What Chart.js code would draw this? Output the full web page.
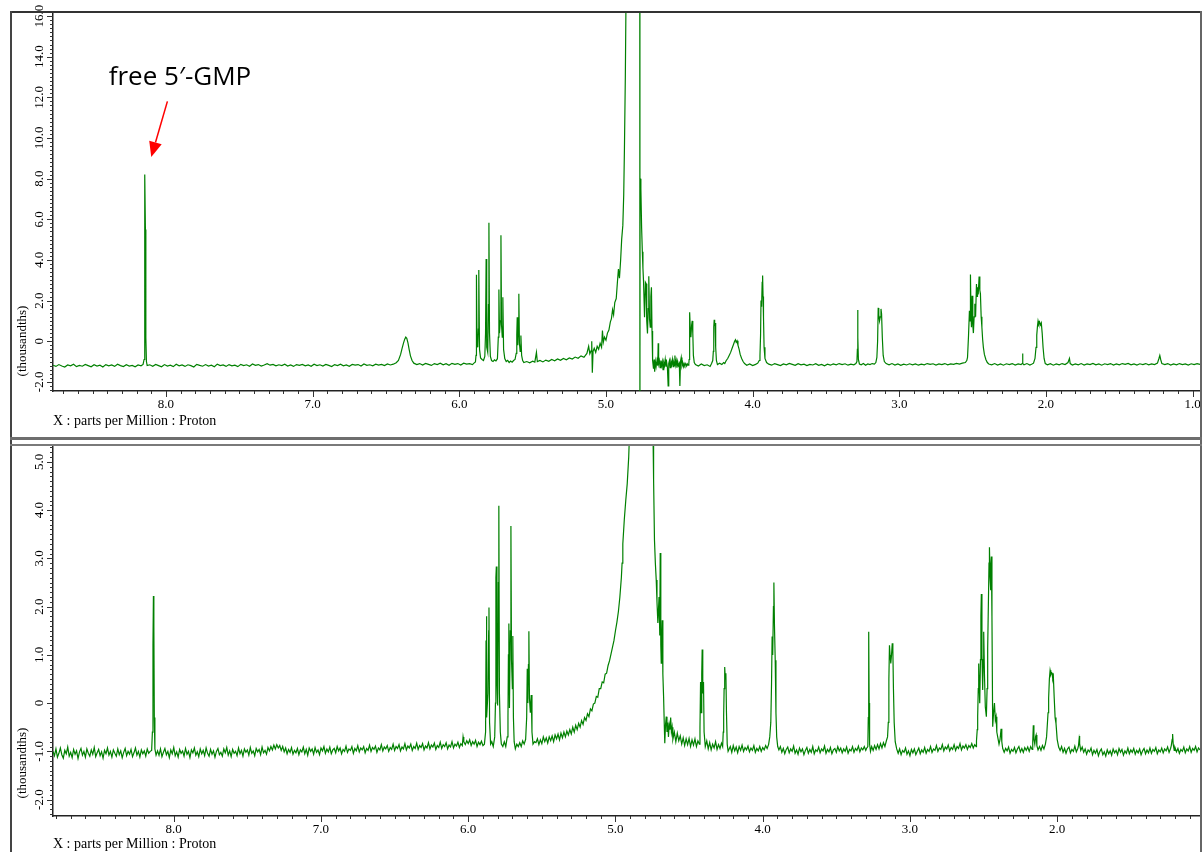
<!DOCTYPE html>
<html>
<head>
<meta charset="utf-8">
<script src="https://cdn.jsdelivr.net/npm/chart.js@4.4.1/dist/chart.umd.min.js"></script>
<style>
  html, body { margin: 0; padding: 0; background: #fff; }
  #page { position: relative; width: 1202px; height: 852px; overflow: hidden; background: #fff; }
  #page canvas { position: absolute; }
  .rule { position: absolute; }
</style>
</head>
<body>
<div id="page">
  <canvas id="topPanel" width="1200" height="437" style="left:0;top:0"></canvas>
  <canvas id="bottomPanel" width="1200" height="406" style="left:0;top:446px"></canvas>
  <div class="rule" style="left:10px;top:11px;width:1192px;height:2px;background:#333"></div>
  <div class="rule" style="left:10px;top:11px;width:2px;height:841px;background:#444"></div>
  <div class="rule" style="left:1200px;top:11px;width:2px;height:841px;background:#666"></div>
  <div class="rule" style="left:10px;top:437px;width:1192px;height:3px;background:#6e6e6e"></div>
  <div class="rule" style="left:10px;top:444px;width:1192px;height:2px;background:#7a7a7a"></div>
</div>
<script>
// 1H NMR traces: [chemical shift (ppm), intensity (thousandths)]
const topSpectrum = [
  [8.77,-1.18],[8.75,-1.24],[8.73,-1.15],[8.71,-1.22],[8.69,-1.27],[8.67,-1.17],[8.65,-1.21],[8.63,-1.13],[8.61,-1.25],[8.59,-1.19],
  [8.57,-1.23],[8.55,-1.14],[8.53,-1.2],[8.51,-1.26],[8.49,-1.16],[8.47,-1.22],[8.45,-1.18],[8.43,-1.27],[8.41,-1.15],[8.39,-1.21],
  [8.37,-1.17],[8.35,-1.24],[8.33,-1.13],[8.31,-1.2],[8.29,-1.25],[8.27,-1.16],[8.25,-1.22],[8.23,-1.19],[8.21,-1.26],[8.19,-1.17],
  [8.17,-1.21],[8.156,-1.14],[8.149,-0.9],[8.146,2.5],[8.143,8.2],[8.140,5.5],[8.137,0.2],[8.133,-1.0],[8.128,-1.2],
  [8.11,-1.16],[8.09,-1.23],[8.07,-1.14],[8.05,-1.2],[8.03,-1.26],[8.01,-1.15],[7.99,-1.22],[7.97,-1.18],[7.95,-1.25],[7.93,-1.13],
  [7.91,-1.21],[7.89,-1.17],[7.87,-1.24],[7.85,-1.16],[7.83,-1.2],[7.81,-1.27],[7.79,-1.14],[7.77,-1.19],[7.75,-1.23],[7.73,-1.15],
  [7.71,-1.22],[7.69,-1.18],[7.67,-1.26],[7.65,-1.13],[7.63,-1.2],[7.61,-1.17],[7.59,-1.24],[7.57,-1.15],[7.55,-1.21],[7.53,-1.18],
  [7.51,-1.25],[7.49,-1.14],[7.47,-1.2],[7.45,-1.16],[7.43,-1.23],[7.41,-1.12],[7.39,-1.19],[7.37,-1.15],[7.35,-1.22],[7.33,-1.17],
  [7.31,-1.11],[7.29,-1.18],[7.27,-1.14],[7.25,-1.21],[7.23,-1.16],[7.21,-1.2],[7.19,-1.13],[7.17,-1.22],[7.15,-1.17],[7.13,-1.24],
  [7.11,-1.15],[7.09,-1.19],[7.07,-1.14],[7.05,-1.21],[7.03,-1.17],[7.01,-1.23],[6.99,-1.13],[6.97,-1.2],[6.95,-1.16],[6.93,-1.22],
  [6.91,-1.14],[6.89,-1.19],[6.87,-1.25],[6.85,-1.15],[6.83,-1.2],[6.81,-1.13],[6.79,-1.21],[6.77,-1.17],[6.75,-1.23],[6.73,-1.14],
  [6.71,-1.18],[6.69,-1.15],[6.67,-1.22],[6.65,-1.12],[6.63,-1.19],[6.61,-1.16],[6.59,-1.21],[6.57,-1.13],[6.55,-1.18],[6.53,-1.14],
  [6.51,-1.2],[6.49,-1.12],[6.47,-1.17],[6.45,-1.13],[6.43,-1.06],[6.415,-0.95],[6.40,-0.65],[6.39,-0.35],[6.38,-0.08],[6.372,0.1],
  [6.365,0.2],[6.358,0.14],[6.35,-0.08],[6.342,-0.4],[6.333,-0.72],[6.322,-0.95],[6.31,-1.08],
  [6.29,-1.15],[6.27,-1.1],[6.25,-1.17],[6.23,-1.09],[6.21,-1.14],[6.19,-1.19],[6.17,-1.1],[6.15,-1.15],[6.13,-1.08],[6.11,-1.16],
  [6.09,-1.11],[6.07,-1.18],[6.05,-1.09],[6.03,-1.14],[6.01,-1.1],[5.99,-1.17],[5.97,-1.08],[5.95,-1.13],[5.93,-1.1],[5.91,-1.15],
  [5.90,-1.08],[5.89,-1.02],[5.886,-0.7],[5.883,3.27],[5.879,0.0],[5.874,-0.3],[5.870,0.6],[5.867,3.5],[5.862,-0.4],[5.855,-0.82],
  [5.845,-0.9],[5.835,-0.95],[5.826,-0.75],[5.821,0.4],[5.817,4.05],[5.813,-0.3],[5.806,-0.55],[5.801,1.8],[5.798,5.83],[5.794,0.4],
  [5.788,-0.75],[5.78,-0.95],[5.77,-1.0],[5.76,-0.92],[5.75,-0.97],[5.74,-0.86],[5.734,0.2],[5.730,2.55],[5.726,0.4],[5.72,1.0],
  [5.716,5.22],[5.712,0.8],[5.707,0.2],[5.703,2.16],[5.698,-0.4],[5.69,-0.85],[5.68,-1.0],[5.67,-0.94],[5.66,-1.05],[5.65,-0.98],
  [5.64,-1.03],[5.63,-0.95],[5.62,-0.9],[5.612,-0.6],[5.608,0.3],[5.605,1.18],[5.601,-0.2],[5.597,0.6],[5.594,2.33],[5.59,-0.1],
  [5.585,-0.5],[5.58,0.28],[5.575,-0.7],[5.568,-0.95],[5.56,-1.05],
  [5.54,-1.0],[5.52,-1.06],[5.50,-0.98],[5.485,-1.03],[5.474,-0.55],[5.468,-1.0],[5.45,-0.95],[5.43,-1.02],[5.41,-0.93],[5.39,-0.99],
  [5.37,-0.9],[5.35,-0.96],[5.33,-0.87],[5.31,-0.94],[5.29,-0.85],[5.27,-0.91],[5.25,-0.82],[5.23,-0.88],[5.21,-0.78],[5.19,-0.84],
  [5.17,-0.72],[5.15,-0.79],[5.13,-0.6],[5.118,-0.25],[5.11,-0.62],[5.10,-0.45],[5.097,0.0],[5.093,-1.55],[5.088,-0.5],[5.08,-0.35],
  [5.07,-0.55],[5.06,-0.25],[5.05,-0.4],[5.04,-0.1],[5.03,-0.3],[5.024,0.53],[5.018,-0.05],[5.01,0.2],[5.0,0.05],[4.99,0.4],
  [4.98,0.55],[4.97,0.95],[4.963,1.1],[4.955,1.55],[4.948,1.3],[4.94,1.9],[4.93,2.1],[4.922,2.9],[4.915,3.55],[4.908,3.1],
  [4.9,4.0],[4.893,5.0],[4.885,5.7],[4.879,7.2],[4.874,9.5],[4.868,13],[4.862,18],[4.85,25],[4.82,30],[4.79,30],
  [4.775,25],[4.7695,20],[4.769,-6],[4.768,-6],[4.7675,8],[4.762,7.5],[4.757,5.6],[4.752,4.4],[4.748,3.6],[4.744,2.98],
  [4.737,1.18],[4.731,2.9],[4.726,2.83],[4.722,1.0],[4.717,0.38],[4.712,1.6],[4.708,3.2],[4.703,1.1],[4.698,0.69],[4.694,2.2],
  [4.69,2.65],[4.686,0.5],[4.684,-0.13],[4.68,-0.95],
  [4.676,-1.35],[4.672,-0.9],[4.668,-1.5],[4.663,-1.0],[4.658,-1.25],[4.652,-0.95],[4.647,-1.2],[4.644,-0.1],[4.641,-1.1],[4.636,-0.95],
  [4.631,-1.3],[4.626,-0.95],[4.621,-1.2],[4.616,-1.0],[4.611,-1.4],[4.606,-1.05],[4.601,-1.2],[4.596,-0.9],[4.591,-1.25],[4.586,-1.05],
  [4.581,-1.3],[4.576,-2.2],[4.572,-1.1],[4.567,-0.95],[4.562,-1.3],[4.557,-1.0],[4.552,-1.15],[4.547,-0.9],[4.542,-1.25],[4.537,-1.05],
  [4.532,-1.2],[4.530,-0.7],[4.526,-1.15],[4.521,-0.95],[4.516,-1.3],[4.511,-1.0],[4.506,-1.2],[4.500,-1.1],[4.496,-2.2],[4.492,-1.0],
  [4.487,-0.8],[4.482,-1.2],[4.477,-1.05],[4.472,-1.25],[4.467,-1.1],[4.462,-1.2],[4.456,-1.1],[4.45,-1.22],[4.445,-1.12],[4.44,-1.18],
  [4.435,-1.1],[4.433,-0.9],[4.431,0.2],[4.428,1.43],[4.425,0.6],[4.421,0.2],[4.416,0.8],[4.412,1.0],[4.408,0.4],[4.404,-0.7],
  [4.398,-1.05],[4.39,-1.15],[4.37,-1.22],[4.35,-1.12],[4.33,-1.2],[4.31,-1.16],[4.29,-1.24],[4.28,-1.1],
  [4.272,-0.95],[4.268,-0.5],[4.265,0.7],[4.262,1.05],[4.259,0.75],[4.256,0.9],[4.252,-0.3],[4.247,-0.95],[4.24,-1.15],
  [4.225,-1.08],[4.21,-1.15],[4.198,-1.05],[4.19,-1.1],[4.18,-0.95],[4.17,-0.85],[4.16,-0.7],[4.15,-0.55],[4.14,-0.35],[4.13,-0.15],
  [4.123,0.0],[4.117,0.07],[4.112,-0.05],[4.106,0.02],[4.1,-0.2],[4.092,-0.4],[4.085,-0.65],[4.075,-0.85],[4.065,-1.0],[4.055,-1.1],
  [4.04,-1.18],[4.02,-1.12],[4.0,-1.2],[3.98,-1.14],[3.965,-1.08],
  [3.955,-0.95],[3.95,-0.7],[3.946,0.3],[3.943,2.0],[3.939,1.7],[3.935,2.9],[3.932,3.23],[3.929,2.2],[3.926,1.18],[3.922,-0.3],
  [3.916,-0.85],[3.905,-1.05],
  [3.89,-1.13],[3.87,-1.18],[3.85,-1.1],[3.83,-1.15],[3.81,-1.2],[3.79,-1.12],[3.77,-1.16],[3.75,-1.09],[3.73,-1.14],[3.71,-1.19],
  [3.69,-1.11],[3.67,-1.16],[3.65,-1.13],[3.63,-1.2],[3.61,-1.14],[3.59,-1.17],[3.57,-1.11],[3.55,-1.19],[3.53,-1.14],[3.51,-1.21],
  [3.49,-1.13],[3.47,-1.18],[3.45,-1.12],[3.43,-1.16],[3.41,-1.1],[3.39,-1.15],[3.37,-1.11],[3.35,-1.18],[3.33,-1.13],[3.31,-1.16],
  [3.296,-1.1],[3.289,-1.0],[3.286,-0.4],[3.284,1.54],[3.282,0.2],[3.279,-0.9],[3.272,-1.12],
  [3.26,-1.16],[3.245,-1.1],[3.23,-1.18],[3.215,-1.12],[3.2,-1.15],[3.185,-1.1],[3.17,-1.13],[3.16,-1.05],
  [3.153,-0.8],[3.148,0.0],[3.144,1.64],[3.14,1.3],[3.135,1.0],[3.13,1.2],[3.125,1.59],[3.121,1.35],[3.116,0.2],[3.11,-0.7],
  [3.102,-1.0],[3.09,-1.1],
  [3.07,-1.16],[3.05,-1.1],[3.03,-1.17],[3.01,-1.12],[2.99,-1.19],[2.97,-1.13],[2.95,-1.17],[2.93,-1.11],[2.91,-1.16],[2.89,-1.12],
  [2.87,-1.18],[2.85,-1.13],[2.83,-1.16],[2.81,-1.1],[2.79,-1.14],[2.77,-1.11],[2.75,-1.17],[2.73,-1.12],[2.71,-1.15],[2.69,-1.1],
  [2.67,-1.16],[2.65,-1.12],[2.63,-1.14],[2.61,-1.09],[2.59,-1.13],[2.57,-1.08],[2.55,-1.05],[2.54,-0.95],
  [2.535,-0.8],[2.528,0.3],[2.522,1.5],[2.518,1.0],[2.515,3.28],[2.511,1.2],[2.508,0.69],[2.504,2.24],[2.499,0.8],[2.495,0.4],
  [2.49,1.2],[2.485,1.84],[2.48,1.2],[2.474,2.82],[2.47,2.2],[2.467,2.65],[2.462,2.3],[2.456,3.18],[2.451,2.5],[2.447,2.33],
  [2.442,1.2],[2.437,0.69],[2.432,0.1],[2.427,-0.3],[2.42,-0.65],[2.41,-0.9],[2.40,-1.05],[2.39,-1.12],
  [2.37,-1.16],[2.35,-1.1],[2.33,-1.17],[2.31,-1.12],[2.29,-1.18],[2.27,-1.11],[2.25,-1.15],[2.23,-1.1],[2.21,-1.17],[2.19,-1.12],
  [2.17,-1.15],[2.163,-1.1],[2.160,-0.6],[2.157,-1.1],[2.15,-1.16],[2.13,-1.1],[2.11,-1.17],[2.095,-1.12],[2.085,-1.08],
  [2.075,-0.85],[2.068,-0.3],[2.063,0.3],[2.058,0.75],[2.054,1.0],[2.049,0.85],[2.044,0.95],[2.038,0.8],[2.032,0.9],[2.026,0.4],
  [2.02,-0.3],[2.013,-0.85],[2.005,-1.1],
  [1.99,-1.16],[1.97,-1.11],[1.95,-1.18],[1.93,-1.12],[1.91,-1.16],[1.89,-1.1],[1.87,-1.15],[1.85,-1.05],[1.84,-0.85],[1.835,-1.1],
  [1.82,-1.17],[1.80,-1.12],[1.78,-1.16],[1.76,-1.1],[1.74,-1.17],[1.72,-1.12],[1.70,-1.15],[1.68,-1.09],[1.66,-1.16],[1.64,-1.12],
  [1.62,-1.18],[1.60,-1.11],[1.58,-1.15],[1.56,-1.1],[1.54,-1.17],[1.52,-1.12],[1.50,-1.16],[1.48,-1.1],[1.46,-1.14],[1.44,-1.09],
  [1.42,-1.16],[1.40,-1.12],[1.38,-1.17],[1.36,-1.11],[1.34,-1.15],[1.32,-1.1],[1.30,-1.16],[1.28,-1.12],[1.26,-1.15],[1.24,-1.08],
  [1.23,-0.85],[1.224,-0.7],[1.218,-0.9],[1.21,-1.1],[1.19,-1.15],[1.17,-1.1],[1.15,-1.17],[1.13,-1.12],[1.11,-1.16],[1.09,-1.1],
  [1.07,-1.15],[1.05,-1.12],[1.03,-1.17],[1.01,-1.11],[0.99,-1.15],[0.97,-1.1],[0.95,-1.14]
];

const bottomSpectrum = [
  [8.82,-1.0],[8.81,-1.09],[8.80,-0.95],[8.79,-1.12],[8.78,-1.04],[8.77,-0.93],[8.76,-1.07],[8.75,-1.14],[8.74,-0.98],[8.73,-1.05],
  [8.72,-0.91],[8.71,-1.1],[8.70,-1.02],[8.69,-1.13],[8.68,-0.96],[8.67,-1.06],[8.66,-0.99],[8.65,-1.15],[8.64,-1.01],[8.63,-0.94],
  [8.62,-1.08],[8.61,-1.0],[8.60,-1.12],[8.59,-0.95],[8.58,-1.04],[8.57,-1.1],[8.56,-0.97],[8.55,-1.06],[8.54,-0.92],[8.53,-1.11],
  [8.52,-1.03],[8.51,-0.96],[8.50,-1.09],[8.49,-1.01],[8.48,-1.14],[8.47,-0.98],[8.46,-1.05],[8.45,-0.93],[8.44,-1.08],[8.43,-1.0],
  [8.42,-1.12],[8.41,-0.97],[8.40,-1.04],[8.39,-1.1],[8.38,-0.95],[8.37,-1.07],[8.36,-0.99],[8.35,-1.13],[8.34,-1.02],[8.33,-0.94],
  [8.32,-1.09],[8.31,-1.0],[8.30,-1.06],[8.29,-0.96],[8.28,-1.11],[8.27,-1.03],[8.26,-0.93],[8.25,-1.08],[8.24,-1.0],[8.23,-1.12],
  [8.22,-0.97],[8.21,-1.05],[8.20,-0.99],[8.19,-1.1],[8.18,-0.95],[8.17,-1.04],[8.16,-1.0],
  [8.15,-0.98],[8.145,-0.6],[8.141,1.2],[8.138,2.22],[8.135,1.6],[8.132,-0.3],[8.128,-0.95],[8.12,-1.08],
  [8.11,-0.99],[8.10,-1.08],[8.09,-0.95],[8.08,-1.11],[8.07,-1.02],[8.06,-0.94],[8.05,-1.07],[8.04,-1.0],[8.03,-1.13],[8.02,-0.97],
  [8.01,-1.05],[8.00,-0.92],[7.99,-1.09],[7.98,-1.01],[7.97,-1.12],[7.96,-0.96],[7.95,-1.04],[7.94,-0.99],[7.93,-1.1],[7.92,-0.94],
  [7.91,-1.06],[7.90,-1.0],[7.89,-1.13],[7.88,-0.97],[7.87,-1.03],[7.86,-0.93],[7.85,-1.08],[7.84,-1.01],[7.83,-1.11],[7.82,-0.95],
  [7.81,-1.05],[7.80,-0.98],[7.79,-1.09],[7.78,-0.93],[7.77,-1.04],[7.76,-1.1],[7.75,-0.96],[7.74,-1.06],[7.73,-0.99],[7.72,-1.12],
  [7.71,-1.0],[7.70,-0.94],[7.69,-1.07],[7.68,-1.02],[7.67,-1.1],[7.66,-0.95],[7.65,-1.03],[7.64,-0.92],[7.63,-1.08],[7.62,-0.99],
  [7.61,-1.11],[7.60,-0.96],[7.59,-1.04],[7.58,-1.0],[7.57,-1.09],[7.56,-0.93],[7.55,-1.05],[7.54,-0.98],[7.53,-1.1],[7.52,-0.95],
  [7.51,-1.02],[7.50,-0.97],[7.49,-1.08],[7.48,-0.92],[7.47,-1.04],[7.46,-0.99],[7.45,-1.09],[7.44,-0.94],[7.43,-1.01],[7.42,-0.96],
  [7.41,-1.07],[7.40,-0.91],[7.39,-1.03],[7.38,-0.98],[7.37,-1.06],[7.36,-0.92],[7.35,-0.99],[7.34,-0.9],[7.33,-0.97],[7.32,-0.87],
  [7.31,-0.95],[7.30,-0.86],[7.29,-0.93],[7.28,-0.88],[7.27,-0.98],[7.26,-0.9],[7.25,-1.01],[7.24,-0.93],[7.23,-1.05],[7.22,-0.96],
  [7.21,-1.02],[7.20,-0.92],[7.19,-1.06],[7.18,-0.98],[7.17,-1.03],[7.16,-0.94],[7.15,-1.07],[7.14,-0.97],[7.13,-1.01],[7.12,-0.91],
  [7.11,-1.05],[7.10,-0.96],[7.09,-1.08],[7.08,-0.93],[7.07,-1.0],[7.06,-0.95],[7.05,-1.06],[7.04,-0.92],[7.03,-1.02],[7.02,-0.97],
  [7.01,-1.07],[7.00,-0.93],[6.99,-0.99],[6.98,-0.9],[6.97,-1.04],[6.96,-0.95],[6.95,-1.01],[6.94,-0.91],[6.93,-1.05],[6.92,-0.97],
  [6.91,-0.94],[6.90,-1.03],[6.89,-0.9],[6.88,-0.99],[6.87,-0.93],[6.86,-1.05],[6.85,-0.96],[6.84,-1.0],[6.83,-0.89],[6.82,-1.02],
  [6.81,-0.95],[6.80,-0.98],[6.79,-0.9],[6.78,-1.04],[6.77,-0.94],[6.76,-0.99],[6.75,-0.88],[6.74,-1.01],[6.73,-0.93],[6.72,-0.97],
  [6.71,-0.9],[6.70,-1.03],[6.69,-0.94],[6.68,-0.98],[6.67,-0.87],[6.66,-1.0],[6.65,-0.92],[6.64,-0.96],[6.63,-0.89],[6.62,-1.02],
  [6.61,-0.93],[6.60,-0.97],[6.59,-0.86],[6.58,-0.99],[6.57,-0.91],[6.56,-0.95],[6.55,-0.88],[6.54,-1.0],[6.53,-0.92],[6.52,-0.96],
  [6.51,-0.85],[6.50,-0.98],[6.49,-0.9],[6.48,-0.94],[6.47,-0.86],[6.46,-0.99],[6.45,-0.91],[6.44,-0.95],[6.43,-0.84],[6.42,-0.97],
  [6.41,-0.89],[6.40,-0.93],[6.39,-0.85],[6.38,-0.98],[6.37,-0.9],[6.36,-0.94],[6.35,-0.83],[6.34,-0.96],[6.33,-0.88],[6.32,-0.92],
  [6.31,-0.84],[6.30,-0.97],[6.29,-0.89],[6.28,-0.93],[6.27,-0.82],[6.26,-0.95],[6.25,-0.87],[6.24,-0.91],[6.23,-0.83],[6.22,-0.96],
  [6.21,-0.88],[6.20,-0.92],[6.19,-0.81],[6.18,-0.94],[6.17,-0.86],[6.16,-0.9],[6.15,-0.82],[6.14,-0.95],[6.13,-0.87],[6.12,-0.91],
  [6.11,-0.8],[6.10,-0.93],[6.09,-0.85],[6.08,-0.89],[6.07,-0.81],[6.06,-0.92],[6.05,-0.84],[6.04,-0.88],[6.035,-0.7],[6.03,-0.8],
  [6.02,-0.86],[6.01,-0.78],[6.00,-0.84],[5.99,-0.76],[5.98,-0.88],[5.97,-0.8],[5.96,-0.85],[5.95,-0.77],[5.94,-0.9],[5.93,-0.81],
  [5.92,-0.86],[5.91,-0.79],[5.90,-0.88],
  [5.89,-0.85],[5.882,-0.6],[5.879,1.3],[5.877,1.80],[5.873,-0.3],[5.866,0.2],[5.861,1.5],[5.859,1.98],[5.855,-0.4],[5.848,-0.85],
  [5.84,-0.8],[5.83,-0.9],[5.82,-0.7],[5.815,0.0],[5.812,2.6],[5.809,2.83],[5.805,0.5],[5.80,-0.05],[5.795,2.5],[5.792,4.09],
  [5.788,0.2],[5.782,-0.6],[5.775,-0.85],[5.765,-0.9],[5.755,-0.8],[5.745,-0.9],[5.735,-0.7],[5.73,-0.3],[5.727,1.0],[5.724,1.65],
  [5.72,-0.1],[5.714,1.5],[5.710,3.67],[5.706,0.9],[5.700,0.3],[5.697,1.39],[5.693,-0.3],[5.688,-0.8],[5.68,-0.95],[5.67,-0.85],
  [5.66,-0.9],[5.65,-0.82],[5.64,-0.9],[5.63,-0.78],[5.62,-0.85],[5.61,-0.75],[5.603,-0.3],[5.599,0.71],[5.595,0.0],[5.591,0.8],
  [5.588,1.49],[5.584,0.1],[5.578,-0.2],[5.572,0.17],[5.567,-0.6],[5.56,-0.85],[5.55,-0.8],
  [5.54,-0.82],[5.53,-0.74],[5.52,-0.86],[5.51,-0.76],[5.50,-0.84],[5.49,-0.7],[5.48,-0.8],[5.47,-0.72],[5.46,-0.83],[5.45,-0.7],
  [5.44,-0.78],[5.43,-0.68],[5.42,-0.8],[5.41,-0.66],[5.40,-0.74],[5.39,-0.64],[5.38,-0.76],[5.37,-0.62],[5.36,-0.72],[5.35,-0.6],
  [5.34,-0.7],[5.33,-0.58],[5.32,-0.66],[5.31,-0.55],[5.30,-0.64],[5.29,-0.5],[5.28,-0.6],[5.27,-0.46],[5.26,-0.55],[5.25,-0.42],
  [5.24,-0.5],[5.23,-0.36],[5.22,-0.44],[5.21,-0.3],[5.20,-0.36],[5.19,-0.22],[5.18,-0.28],[5.17,-0.12],[5.16,-0.16],[5.15,-0.02],
  [5.14,0.0],[5.13,0.14],[5.12,0.12],[5.11,0.3],[5.10,0.3],[5.09,0.44],[5.08,0.42],[5.07,0.6],[5.06,0.62],[5.05,0.78],
  [5.04,0.88],[5.03,1.02],[5.02,1.16],[5.01,1.3],[5.0,1.5],[4.99,1.68],[4.98,1.9],[4.97,2.2],[4.96,2.6],[4.955,2.9],
  [4.95,3.3],[4.94,3.8],[4.93,4.2],[4.92,4.55],[4.91,5.1],[4.90,6.0],[4.88,9],[4.85,14],[4.80,14],[4.765,10],
  [4.75,6.5],[4.745,5.6],[4.741,4.63],[4.735,3.38],[4.729,2.9],[4.723,2.55],[4.718,2.1],[4.712,1.66],[4.704,2.2],[4.699,1.4],
  [4.696,3.11],[4.692,1.2],[4.689,0.83],[4.686,1.3],[4.682,1.72],[4.678,0.6],[4.673,0.12],[4.668,-0.5],[4.665,-0.83],[4.66,-0.45],
  [4.655,-0.28],[4.65,-0.6],[4.645,-0.4],[4.64,-0.7],[4.635,-0.45],[4.63,-0.55],[4.625,-0.3],[4.62,-0.6],[4.615,-0.5],[4.61,-0.75],
  [4.60,-0.6],[4.59,-0.8],[4.58,-0.62],[4.57,-0.78],[4.56,-0.68],[4.55,-0.85],[4.54,-0.72],[4.53,-0.88],[4.52,-0.74],[4.51,-0.86],
  [4.50,-0.73],[4.49,-0.9],[4.48,-0.76],[4.47,-0.87],[4.46,-0.74],[4.45,-0.9],[4.44,-0.78],[4.43,-0.85],
  [4.426,-0.5],[4.422,0.44],[4.418,-0.2],[4.414,0.6],[4.411,1.11],[4.407,0.2],[4.402,0.44],[4.398,-0.6],[4.39,-0.9],
  [4.38,-0.78],[4.37,-0.95],[4.36,-0.82],[4.35,-0.97],[4.34,-0.85],[4.33,-0.93],[4.32,-0.8],[4.31,-0.96],[4.30,-0.86],[4.29,-0.94],
  [4.28,-0.83],[4.272,-0.9],[4.268,-0.6],[4.265,-0.25],[4.262,0.3],[4.258,0.75],[4.254,0.5],[4.25,0.62],[4.246,-0.2],[4.241,-0.85],
  [4.235,-1.0],[4.22,-0.9],[4.21,-1.02],[4.20,-0.88],[4.19,-0.99],[4.18,-0.91],[4.17,-1.03],[4.16,-0.9],[4.15,-0.98],[4.14,-0.87],
  [4.13,-1.0],[4.12,-0.92],[4.11,-0.97],[4.10,-0.89],[4.09,-1.01],[4.08,-0.93],[4.07,-0.98],[4.06,-0.88],[4.05,-1.02],[4.04,-0.94],
  [4.03,-0.99],[4.02,-0.9],[4.01,-1.0],[4.00,-0.92],[3.99,-0.97],[3.98,-0.88],[3.97,-0.94],[3.96,-0.86],[3.952,-0.7],
  [3.945,-0.4],[3.94,0.4],[3.936,1.38],[3.932,1.0],[3.927,2.0],[3.924,2.5],[3.92,1.6],[3.915,0.89],[3.91,-0.2],[3.905,-0.7],
  [3.898,-0.9],
  [3.89,-0.97],[3.88,-0.9],[3.87,-1.02],[3.86,-0.94],[3.85,-1.05],[3.84,-0.96],[3.83,-0.91],[3.82,-1.03],[3.81,-0.95],[3.80,-1.0],
  [3.79,-0.89],[3.78,-1.04],[3.77,-0.97],[3.76,-1.06],[3.75,-0.93],[3.74,-1.01],[3.73,-0.95],[3.72,-1.07],[3.71,-0.98],[3.70,-0.92],
  [3.69,-1.04],[3.68,-0.96],[3.67,-1.02],[3.66,-0.9],[3.65,-1.05],[3.64,-0.97],[3.63,-1.0],[3.62,-0.91],[3.61,-1.03],[3.60,-0.95],
  [3.59,-0.99],[3.58,-0.89],[3.57,-1.04],[3.56,-0.96],[3.55,-1.01],[3.54,-0.92],[3.53,-1.05],[3.52,-0.97],[3.51,-0.94],[3.50,-1.02],
  [3.49,-0.9],[3.48,-0.99],[3.47,-0.93],[3.46,-1.03],[3.45,-0.95],[3.44,-1.0],[3.43,-0.91],[3.42,-1.04],[3.41,-0.96],[3.40,-0.99],
  [3.39,-0.9],[3.38,-1.02],[3.37,-0.94],[3.36,-0.98],[3.35,-0.89],[3.34,-1.01],[3.33,-0.93],[3.32,-0.97],[3.31,-0.9],[3.30,-0.98],
  [3.295,-0.94],[3.286,-0.9],[3.283,-0.3],[3.280,1.48],[3.277,0.0],[3.274,-0.85],[3.268,-1.0],
  [3.26,-0.9],[3.25,-0.98],[3.24,-0.88],[3.23,-0.96],[3.22,-0.86],[3.21,-0.95],[3.20,-0.84],[3.19,-0.93],[3.18,-0.82],[3.17,-0.9],
  [3.16,-0.78],[3.152,-0.7],[3.147,-0.4],[3.143,0.5],[3.139,1.2],[3.135,1.0],[3.13,0.82],[3.125,1.0],[3.12,1.24],[3.116,1.1],
  [3.112,0.3],[3.107,-0.4],[3.1,-0.8],[3.09,-0.95],
  [3.08,-1.04],[3.07,-0.95],[3.06,-1.07],[3.05,-0.98],[3.04,-1.02],[3.03,-0.93],[3.02,-1.06],[3.01,-0.99],[3.00,-1.09],[2.99,-0.96],
  [2.98,-1.03],[2.97,-0.95],[2.96,-1.07],[2.95,-1.0],[2.94,-0.93],[2.93,-1.05],[2.92,-0.97],[2.91,-1.02],[2.90,-0.92],[2.89,-1.04],
  [2.88,-0.96],[2.87,-1.0],[2.86,-0.9],[2.85,-1.02],[2.84,-0.95],[2.83,-0.98],[2.82,-0.88],[2.81,-1.0],[2.80,-0.93],[2.79,-0.96],
  [2.78,-0.86],[2.77,-0.99],[2.76,-0.91],[2.75,-0.95],[2.74,-0.87],[2.73,-0.99],[2.72,-0.92],[2.71,-0.96],[2.70,-0.86],[2.69,-0.98],
  [2.68,-0.9],[2.67,-0.94],[2.66,-0.84],[2.65,-0.97],[2.64,-0.89],[2.63,-0.93],[2.62,-0.86],[2.61,-0.96],[2.60,-0.88],[2.59,-0.92],
  [2.58,-0.84],[2.57,-0.93],[2.56,-0.86],[2.55,-0.9],[2.548,-0.78],
  [2.543,-0.55],[2.54,-0.28],[2.536,0.3],[2.533,0.82],[2.529,0.3],[2.526,0.0],[2.521,0.9],[2.518,1.8],[2.515,2.26],[2.511,1.0],
  [2.506,0.27],[2.502,0.9],[2.499,1.48],[2.494,0.6],[2.488,-0.08],[2.481,-0.28],[2.476,0.3],[2.472,1.13],[2.466,2.3],[2.463,2.9],
  [2.460,3.23],[2.456,2.6],[2.453,2.34],[2.450,2.8],[2.447,3.04],[2.443,1.8],[2.438,-0.49],[2.432,-0.2],[2.426,0.0],[2.42,-0.35],
  [2.415,-0.28],[2.41,-0.6],[2.404,-0.7],[2.395,-0.85],[2.388,-0.75],[2.381,-0.53],[2.376,-0.8],[2.37,-0.94],
  [2.36,-1.02],[2.35,-0.94],[2.34,-0.99],[2.33,-0.91],[2.32,-1.04],[2.31,-0.96],[2.30,-1.0],[2.29,-0.92],[2.28,-1.03],[2.27,-0.95],
  [2.26,-0.9],[2.25,-1.01],[2.24,-0.94],[2.23,-1.02],[2.22,-0.92],[2.21,-0.98],[2.20,-0.91],[2.19,-1.0],[2.18,-0.9],[2.17,-0.96],
  [2.166,-0.8],[2.162,-0.46],[2.158,-0.75],[2.152,-0.85],[2.147,-0.7],[2.143,-0.66],[2.138,-0.88],[2.13,-0.97],[2.12,-0.9],[2.11,-0.98],
  [2.10,-0.88],[2.09,-0.95],[2.08,-0.85],[2.072,-0.7],[2.066,-0.4],[2.062,-0.2],[2.058,0.1],[2.053,0.5],[2.048,0.68],[2.043,0.6],
  [2.039,0.64],[2.035,0.62],[2.03,0.5],[2.026,0.55],[2.02,0.1],[2.014,-0.3],[2.008,-0.42],[2.0,-0.75],[1.99,-0.91],
  [1.98,-0.98],[1.97,-0.9],[1.96,-1.02],[1.95,-0.94],[1.94,-1.04],[1.93,-0.95],[1.92,-0.91],[1.91,-1.03],[1.90,-0.96],[1.89,-1.0],
  [1.88,-0.89],[1.87,-1.01],[1.86,-0.94],[1.855,-0.88],[1.851,-0.75],[1.849,-0.68],[1.846,-0.84],[1.84,-0.98],[1.83,-0.91],[1.82,-1.02],
  [1.81,-0.95],[1.80,-1.06],[1.79,-0.97],[1.78,-1.01],[1.77,-0.93],[1.76,-1.07],[1.75,-0.98],[1.74,-1.04],[1.73,-0.96],[1.72,-1.09],
  [1.71,-1.0],[1.70,-0.95],[1.69,-1.07],[1.68,-1.01],[1.67,-1.1],[1.66,-0.97],[1.65,-1.05],[1.64,-0.99],[1.63,-1.08],[1.62,-0.95],
  [1.61,-1.03],[1.60,-0.98],[1.59,-1.07],[1.58,-0.94],[1.57,-1.02],[1.56,-0.96],[1.55,-1.08],[1.54,-0.99],[1.53,-1.04],[1.52,-0.93],
  [1.51,-1.05],[1.50,-0.97],[1.49,-1.02],[1.48,-0.94],[1.47,-1.06],[1.46,-0.98],[1.45,-1.03],[1.44,-0.95],[1.43,-1.07],[1.42,-0.99],
  [1.41,-0.94],[1.40,-1.05],[1.39,-0.97],[1.38,-1.03],[1.37,-0.93],[1.36,-1.04],[1.35,-0.96],[1.34,-1.0],[1.33,-0.92],[1.32,-1.05],
  [1.31,-0.97],[1.30,-1.01],[1.29,-0.93],[1.28,-1.03],[1.27,-0.95],[1.26,-0.99],[1.25,-0.91],[1.24,-1.02],[1.23,-0.94],[1.225,-0.88],
  [1.219,-0.75],[1.216,-0.64],[1.212,-0.85],[1.205,-0.98],[1.20,-0.92],[1.19,-1.01],[1.18,-0.94],[1.17,-1.04],[1.16,-0.96],[1.15,-1.0],
  [1.14,-0.91],[1.13,-1.03],[1.12,-0.95],[1.11,-0.99],[1.10,-0.9],[1.09,-1.02],[1.08,-0.94],[1.07,-0.98],[1.06,-0.9],[1.05,-1.01],
  [1.04,-0.93],[1.03,-0.97]
];

// Axis tick labels
const topXTicks = [1, 2, 3, 4, 5, 6, 7, 8];
const bottomXTicks = [2, 3, 4, 5, 6, 7, 8];
const topYTicks = [-2, 0, 2, 4, 6, 8, 10, 12, 14, 16];
const bottomYTicks = [-2, -1, 0, 1, 2, 3, 4, 5];

const serif = "'Liberation Serif', 'Times New Roman', serif";
const traceColor = 'rgb(0,128,0)';
const xAxisTitle = 'X : parts per Million : Proton';

function fmtTick(v) { return v === 0 ? '0' : v.toFixed(1); }

// Minor/major tick marks, rotated y labels, axis titles and the optional callout
const axisDecor = {
  id: 'axisDecor',
  afterDraw(chart, args, opts) {
    const { ctx, chartArea: a, scales: { x, y } } = chart;
    ctx.save();
    ctx.strokeStyle = '#333';
    ctx.lineWidth = 1;
    // x ticks every 0.1 ppm, longer at whole ppm
    const xa = Math.ceil(Math.min(x.min, x.max) * 10 - 1e-6);
    const xb = Math.floor(Math.max(x.min, x.max) * 10 + 1e-6);
    ctx.beginPath();
    for (let i = xa; i <= xb; i++) {
      const px = Math.round(x.getPixelForValue(i / 10)) + 0.5;
      const len = i % 10 === 0 ? 6 : 3;
      ctx.moveTo(px, a.bottom);
      ctx.lineTo(px, a.bottom + len);
    }
    // y ticks
    const step = opts.minorStep;
    const ya = Math.ceil(y.min / step - 1e-6);
    const yb = Math.floor(y.max / step + 1e-6);
    for (let i = ya; i <= yb; i++) {
      const v = i * step;
      const py = Math.round(y.getPixelForValue(v)) + 0.5;
      const r = v / opts.majorStep;
      const len = Math.abs(r - Math.round(r)) < 1e-6 ? 6 : 3;
      ctx.moveTo(a.left, py);
      ctx.lineTo(a.left - len, py);
    }
    ctx.stroke();

    ctx.fillStyle = '#000';
    // x axis title, left-aligned under the axis
    ctx.font = '14px ' + serif;
    ctx.textAlign = 'left';
    ctx.textBaseline = 'middle';
    ctx.fillText(xAxisTitle, a.left, opts.xTitleY);

    // rotated y tick labels
    ctx.font = '13px ' + serif;
    ctx.textAlign = 'center';
    opts.yLabels.forEach(v => {
      const py = y.getPixelForValue(v);
      ctx.save();
      ctx.translate(opts.labelX, py);
      ctx.rotate(-Math.PI / 2);
      ctx.fillText(fmtTick(v), 0, 0);
      ctx.restore();
    });
    // y title
    ctx.save();
    ctx.translate(opts.titleX, a.bottom - opts.titleFromBottom);
    ctx.rotate(-Math.PI / 2);
    ctx.fillText('(thousandths)', 0, 0);
    ctx.restore();

    // callout
    if (opts.note) {
      const n = opts.note;
      ctx.font = n.font;
      ctx.textAlign = 'left';
      ctx.textBaseline = 'alphabetic';
      ctx.fillText(n.text, x.getPixelForValue(n.textAt[0]), y.getPixelForValue(n.textAt[1]));
      const x0 = x.getPixelForValue(n.from[0]), y0 = y.getPixelForValue(n.from[1]);
      const x1 = x.getPixelForValue(n.to[0]), y1 = y.getPixelForValue(n.to[1]);
      const ang = Math.atan2(y1 - y0, x1 - x0);
      const headLen = 15, headHalf = 6.5;
      const bx = x1 - headLen * Math.cos(ang), by = y1 - headLen * Math.sin(ang);
      ctx.strokeStyle = '#ff0000';
      ctx.fillStyle = '#ff0000';
      ctx.lineWidth = 1.5;
      ctx.beginPath();
      ctx.moveTo(x0, y0);
      ctx.lineTo(bx, by);
      ctx.stroke();
      ctx.beginPath();
      ctx.moveTo(x1, y1);
      ctx.lineTo(bx + headHalf * Math.sin(ang), by - headHalf * Math.cos(ang));
      ctx.lineTo(bx - headHalf * Math.sin(ang), by + headHalf * Math.cos(ang));
      ctx.closePath();
      ctx.fill();
    }
    ctx.restore();
  }
};

function makePanel(id, spectrum, cfg) {
  return new Chart(document.getElementById(id), {
    type: 'line',
    data: {
      datasets: [{
        data: spectrum,
        borderColor: traceColor,
        borderWidth: 1.2,
        pointRadius: 0,
        fill: false,
        tension: 0
      }]
    },
    options: {
      responsive: false,
      animation: false,
      events: [],
      layout: { padding: { top: cfg.padTop, left: 0, right: 0, bottom: 0 }, autoPadding: false },
      plugins: {
        legend: { display: false },
        tooltip: { enabled: false },
        axisDecor: cfg.decor
      },
      scales: {
        x: {
          type: 'linear',
          reverse: true,
          min: cfg.xMin,
          max: cfg.xMax,
          afterBuildTicks: s => { s.ticks = cfg.xTicks.map(v => ({ value: v })); },
          afterFit: s => { s.height = cfg.xHeight; },
          ticks: {
            autoSkip: false, maxRotation: 0, minRotation: 0,
            padding: cfg.xLabelPad, color: '#000',
            font: { family: serif, size: 13 },
            callback: v => Number(v).toFixed(1)
          },
          grid: { display: false, drawTicks: true, tickLength: 5 },
          border: { display: true, color: '#222', width: 1.5 },
          title: { display: false }
        },
        y: {
          type: 'linear',
          min: cfg.yMin,
          max: cfg.yMax,
          afterFit: s => { s.width = 53; },
          ticks: { display: false },
          grid: { display: false },
          border: { display: true, color: '#222', width: 1.5 }
        }
      }
    },
    plugins: [axisDecor]
  });
}

makePanel('topPanel', topSpectrum, {
  padTop: 12, xHeight: 46, xLabelPad: 1,
  xMin: 0.95, xMax: 8.77, yMin: -2.45, yMax: 16.2, xTicks: topXTicks,
  decor: {
    minorStep: 0.2, majorStep: 2, yLabels: topYTicks, labelX: 40, titleX: 23, titleFromBottom: 50, xTitleY: 421,
    note: {
      text: 'free 5\u2032-GMP',
      font: "26px 'Open Sans', 'Noto Sans', sans-serif",
      textAt: [8.39, 12.6],
      from: [7.99, 11.8],
      to: [8.10, 9.07]
    }
  }
});

makePanel('bottomPanel', bottomSpectrum, {
  padTop: 0, xHeight: 36, xLabelPad: 1,
  xMin: 1.03, xMax: 8.82, yMin: -2.34, yMax: 5.33, xTicks: bottomXTicks,
  decor: { minorStep: 0.1, majorStep: 1, yLabels: bottomYTicks, labelX: 40, titleX: 23, titleFromBottom: 53, xTitleY: 398 }
});
</script>
</body>
</html>
